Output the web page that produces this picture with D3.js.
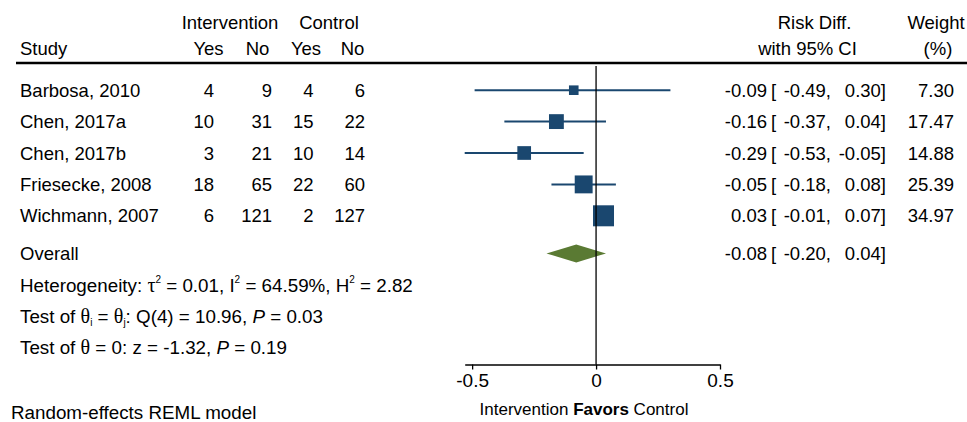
<!DOCTYPE html>
<html>
<head>
<meta charset="utf-8">
<script src="https://cdn.jsdelivr.net/npm/d3@7"></script>
<style>
  html, body { margin: 0; padding: 0; background: #fff; }
  svg { display: block; }
  text { font-family: "Liberation Sans", Arial, Helvetica, sans-serif; font-size: 18.5px; fill: #000; }
  .note { font-size: 18.8px; }
  .greek { font-family: "Liberation Serif", "Times New Roman", serif; }
</style>
</head>
<body>
<svg id="chart" width="967" height="422"></svg>
<script>
// Study-level data
const studies  = ["Barbosa, 2010", "Chen, 2017a", "Chen, 2017b", "Friesecke, 2008", "Wichmann, 2007"];
const intYes   = [4, 10, 3, 18, 6];
const intNo    = [9, 31, 21, 65, 121];
const ctlYes   = [4, 15, 10, 22, 2];
const ctlNo    = [6, 22, 14, 60, 127];
const riskDiff = [-0.09, -0.16, -0.29, -0.05, 0.03];
const ciLow    = [-0.49, -0.37, -0.53, -0.18, -0.01];
const ciHigh   = [0.30, 0.04, -0.05, 0.08, 0.07];
const weights  = [7.30, 17.47, 14.88, 25.39, 34.97];

// Pooled estimate
const overallEst  = -0.08;
const overallLow  = -0.20;
const overallHigh = 0.04;

const xTicks = [-0.5, 0, 0.5];
const xTickLabels = ["-0.5", "0", "0.5"];

const svg = d3.select("#chart");
const navy = "#1a476f";
const green = "#5a7a33";

// Effect-size scale
const x = d3.scaleLinear().domain([-0.53, 0.5]).range([464.7, 720]);
// Row positions
const rowY = d3.scaleLinear().domain([0, 1]).range([90.2, 121.6]);
const overallY = 253.4;
// Marker side length from weight
const size = d3.scaleSqrt().domain([0, d3.max(weights)]).range([0, 21]);

const fmt = d3.format(".2f");
const fmtSigned = v => (v < 0 ? "-" : "") + fmt(Math.abs(v));

// Column headers
const hdr = svg.append("g");
hdr.append("text").attr("x", 230).attr("y", 29).attr("text-anchor", "middle").text("Intervention");
hdr.append("text").attr("x", 329).attr("y", 29).attr("text-anchor", "middle").text("Control");
hdr.append("text").attr("x", 20).attr("y", 54.5).text("Study");
[["Yes", 208.5], ["No", 257.5], ["Yes", 306], ["No", 352.5]].forEach(([t, cx]) =>
  hdr.append("text").attr("x", cx).attr("y", 54.5).attr("text-anchor", "middle").text(t));
hdr.append("text").attr("x", 814.5).attr("y", 28.5).attr("text-anchor", "middle").text("Risk Diff.");
hdr.append("text").attr("x", 807.5).attr("y", 54.5).attr("text-anchor", "middle").text("with 95% CI");
hdr.append("text").attr("x", 936).attr("y", 28.5).attr("text-anchor", "middle").text("Weight");
hdr.append("text").attr("x", 938).attr("y", 54.5).attr("text-anchor", "middle").text("(%)");

// Header rule
svg.append("line").attr("x1", 16).attr("x2", 967).attr("y1", 63).attr("y2", 63)
  .attr("stroke", "#000").attr("stroke-width", 2.4);

// Study rows: table columns
const rows = svg.append("g").selectAll("g").data(studies).join("g")
  .attr("transform", (d, i) => `translate(0,${rowY(i) + 6.5})`);
rows.append("text").attr("x", 20).text(d => d);
const countCols = [[intYes, 214], [intNo, 272], [ctlYes, 313.5], [ctlNo, 365]];
countCols.forEach(([arr, rx]) =>
  rows.append("text").attr("x", rx).attr("text-anchor", "end").text((d, i) => arr[i]));
rows.append("text").attr("x", 767).attr("text-anchor", "end").text((d, i) => fmtSigned(riskDiff[i]));
rows.append("text").attr("x", 771).text("[");
rows.append("text").attr("x", 831).attr("text-anchor", "end").text((d, i) => fmtSigned(ciLow[i]) + ",");
rows.append("text").attr("x", 886).attr("text-anchor", "end").text((d, i) => fmtSigned(ciHigh[i]) + "]");
rows.append("text").attr("x", 954).attr("text-anchor", "end").text((d, i) => fmt(weights[i]));

// Overall row text
const ov = svg.append("g").attr("transform", `translate(0,${overallY + 6.5})`);
ov.append("text").attr("x", 20).text("Overall");
ov.append("text").attr("x", 767).attr("text-anchor", "end").text(fmtSigned(overallEst));
ov.append("text").attr("x", 771).text("[");
ov.append("text").attr("x", 831).attr("text-anchor", "end").text(fmtSigned(overallLow) + ",");
ov.append("text").attr("x", 886).attr("text-anchor", "end").text(fmtSigned(overallHigh) + "]");

// Heterogeneity and test statistics
const het = svg.append("text").attr("class", "note").attr("x", 20).attr("y", 291.5);
het.append("tspan").text("Heterogeneity: ");
het.append("tspan").attr("class", "greek").attr("font-size", 20).text("τ");
het.append("tspan").attr("font-size", 10).attr("dy", -9).text("2");
het.append("tspan").attr("dy", 9).text(" = 0.01, I");
het.append("tspan").attr("font-size", 10).attr("dy", -9).text("2");
het.append("tspan").attr("dy", 9).text(" = 64.59%, H");
het.append("tspan").attr("font-size", 10).attr("dy", -9).text("2");
het.append("tspan").attr("dy", 9).text(" = 2.82");

const t1 = svg.append("text").attr("class", "note").attr("x", 20).attr("y", 323);
t1.append("tspan").text("Test of ");
t1.append("tspan").attr("class", "greek").attr("font-size", 20).text("θ");
t1.append("tspan").attr("font-size", 10).attr("dy", 3).text("i");
t1.append("tspan").attr("dy", -3).text(" = ");
t1.append("tspan").attr("class", "greek").attr("font-size", 20).text("θ");
t1.append("tspan").attr("font-size", 10).attr("dy", 3).text("j");
t1.append("tspan").attr("dy", -3).text(": Q(4) = 10.96, ");
t1.append("tspan").attr("font-style", "italic").text("P");
t1.append("tspan").text(" = 0.03");

const t2 = svg.append("text").attr("class", "note").attr("x", 20).attr("y", 354);
t2.append("tspan").text("Test of ");
t2.append("tspan").attr("class", "greek").attr("font-size", 20).text("θ");
t2.append("tspan").text(" = 0: z = -1.32, ");
t2.append("tspan").attr("font-style", "italic").text("P");
t2.append("tspan").text(" = 0.19");

svg.append("text").attr("class", "note").attr("x", 11).attr("y", 419).text("Random-effects REML model");

// Confidence intervals
svg.append("g").selectAll("line").data(studies).join("line")
  .attr("x1", (d, i) => x(ciLow[i])).attr("x2", (d, i) => x(ciHigh[i]))
  .attr("y1", (d, i) => rowY(i)).attr("y2", (d, i) => rowY(i))
  .attr("stroke", navy).attr("stroke-width", 2);

// Weighted squares
svg.append("g").selectAll("rect").data(studies).join("rect")
  .attr("x", (d, i) => x(riskDiff[i]) - size(weights[i]) / 2)
  .attr("y", (d, i) => rowY(i) - size(weights[i]) / 2)
  .attr("width", (d, i) => size(weights[i]))
  .attr("height", (d, i) => size(weights[i]))
  .attr("fill", navy);

// Pooled diamond
const dh = 9;
svg.append("path")
  .attr("d", `M${x(overallLow)},${overallY} L${x(overallEst)},${overallY - dh} L${x(overallHigh)},${overallY} L${x(overallEst)},${overallY + dh} Z`)
  .attr("fill", green);

// No-effect reference line
svg.append("line").attr("x1", x(0)).attr("x2", x(0)).attr("y1", 66).attr("y2", 364.5)
  .attr("stroke", "#000").attr("stroke-width", 1.3);

// X axis
const axis = d3.axisBottom(x).tickValues(xTicks)
  .tickFormat((d, i) => xTickLabels[i]).tickSize(5).tickSizeOuter(0).tickPadding(4);
const ax = svg.append("g").attr("transform", "translate(0,364.5)").call(axis);
ax.select(".domain").attr("stroke", "#000").attr("stroke-width", 1.3);
ax.selectAll(".tick line").attr("stroke", "#000").attr("stroke-width", 1.3);
ax.selectAll(".tick text").style("font-size", "19px").attr("font-family", null).attr("fill", "#000");

// Axis title
const xt = svg.append("text").attr("x", 584).attr("y", 415).style("font-size", "17px").attr("text-anchor", "middle");
xt.append("tspan").text("Intervention ");
xt.append("tspan").attr("font-weight", "bold").text("Favors");
xt.append("tspan").text(" Control");
</script>
</body>
</html>
